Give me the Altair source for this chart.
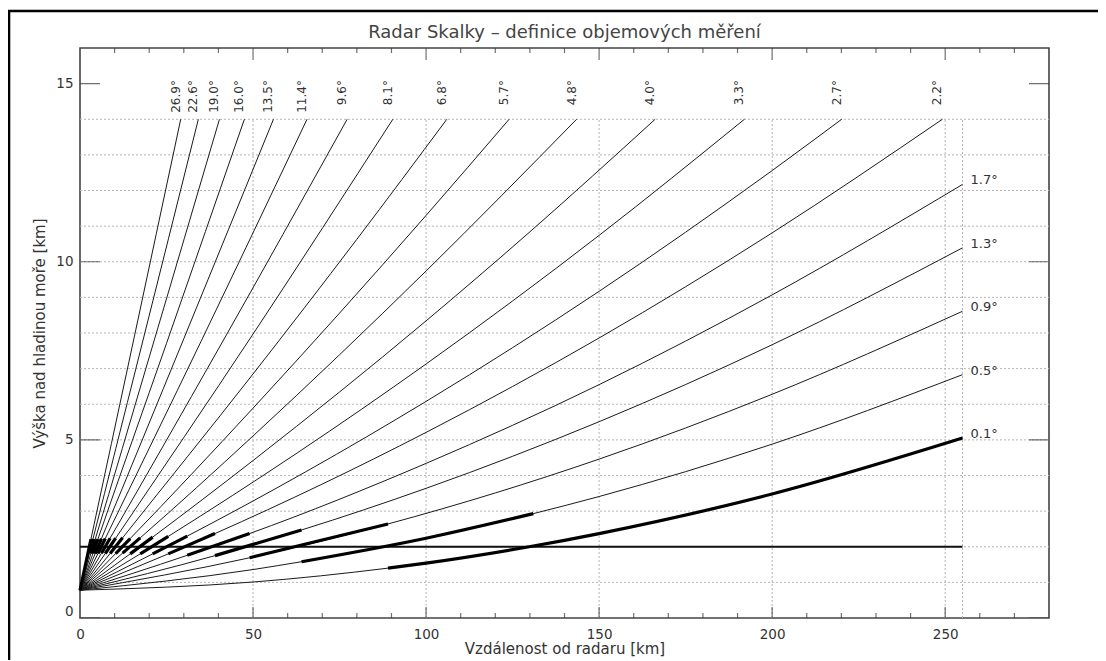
import altair as alt
import pandas as pd

# ---- data ----
chart_title = "Radar Skalky – definice objemových měření"
elev_labels = ["0.1°", "0.5°", "0.9°", "1.3°", "1.7°", "2.2°", "2.7°", "3.3°", "4.0°", "4.8°",
               "5.7°", "6.8°", "8.1°", "9.6°", "11.4°", "13.5°", "16.0°", "19.0°", "22.6°", "26.9°"]

# beam centre height [km] against distance from the radar [km]
dist_0_1 = [0, 50, 89, 100, 131, 150, 200, 255]
hgt_0_1 = [0.78, 1.01, 1.40, 1.54, 2.02, 2.37, 3.48, 5.05]
dist_0_5 = [0, 50, 64, 100, 131, 150, 200, 255]
hgt_0_5 = [0.78, 1.36, 1.58, 2.24, 2.93, 3.41, 4.88, 6.83]
dist_0_9 = [0, 49, 89, 120, 150, 200, 255]
hgt_0_9 = [0.78, 1.69, 2.64, 3.51, 4.46, 6.28, 8.61]
dist_1_3 = [0, 39, 64, 100, 150, 200, 255]
hgt_1_3 = [0.78, 1.75, 2.47, 3.64, 5.51, 7.67, 10.39]
dist_1_7 = [0, 31, 49, 100, 150, 200, 255]
hgt_1_7 = [0.78, 1.76, 2.37, 4.34, 6.55, 9.07, 12.17]
dist_2_2 = [0, 25.5, 39, 100, 150, 200, 249.2]
hgt_2_2 = [0.78, 1.80, 2.37, 5.21, 7.86, 10.81, 14.0]
dist_2_7 = [0, 21, 31, 100, 150, 200, 220.1]
hgt_2_7 = [0.78, 1.80, 2.30, 6.08, 9.17, 12.56, 14.0]
dist_3_3 = [0, 17.4, 25.5, 100, 150, 192]
hgt_3_3 = [0.78, 1.80, 2.29, 7.13, 10.74, 14.0]
dist_4_0 = [0, 14.5, 21, 50, 100, 130, 166.2]
hgt_4_0 = [0.78, 1.80, 2.27, 4.42, 8.34, 10.84, 14.0]
dist_4_8 = [0, 12.3, 17.4, 50, 100, 143.5]
hgt_4_8 = [0.78, 1.82, 2.25, 5.11, 9.74, 14.0]
dist_5_7 = [0, 10.3, 14.5, 50, 100, 124]
hgt_5_7 = [0.78, 1.81, 2.23, 5.89, 11.30, 14.0]
dist_6_8 = [0, 8.7, 12.3, 50, 80, 106]
hgt_6_8 = [0.78, 1.81, 2.25, 6.85, 10.63, 14.0]
dist_8_1 = [0, 7.3, 10.3, 50, 90.4]
hgt_8_1 = [0.78, 1.81, 2.24, 7.97, 14.0]
dist_9_6 = [0, 6.2, 8.7, 40, 77.2]
hgt_9_6 = [0.78, 1.82, 2.24, 7.55, 14.0]
dist_11_4 = [0, 5.2, 7.3, 35, 65.6]
hgt_11_4 = [0.78, 1.81, 2.23, 7.77, 14.0]
dist_13_5 = [0, 4.4, 6.2, 30, 55.9]
hgt_13_5 = [0.78, 1.81, 2.23, 7.84, 14.0]
dist_16_0 = [0, 3.75, 5.2, 25, 47.5]
hgt_16_0 = [0.78, 1.81, 2.22, 7.71, 14.0]
dist_19_0 = [0, 3.15, 4.4, 20, 40.3]
hgt_19_0 = [0.78, 1.81, 2.21, 7.32, 14.0]
dist_22_6 = [0, 2.7, 3.75, 17, 34.2]
hgt_22_6 = [0.78, 1.82, 2.22, 7.33, 14.0]
dist_26_9 = [0, 3.15, 15, 29.1]
hgt_26_9 = [0.78, 2.21, 7.58, 14.0]

# range interval of each elevation drawn bold [km]
seg_start = [89, 64, 49, 39, 31, 25.5, 21, 17.4, 14.5, 12.3, 10.3, 8.7, 7.3, 6.2, 5.2, 4.4, 3.75, 3.15, 2.7, 0]
seg_end = [255, 131, 89, 64, 49, 39, 31, 25.5, 21, 17.4, 14.5, 12.3, 10.3, 8.7, 7.3, 6.2, 5.2, 4.4, 3.75, 3.15]

cappi_height = 2.0
max_range = 255
top_label_height = 15.1

x_label_values = [0, 50, 100, 150, 200, 250]
y_label_values = [0, 5, 10, 15]
h_grid = list(range(1, 15))
v_grid = [50, 100, 150, 200, 250, 255]
grid_top = 14
x_minor = [10, 20, 30, 40, 60, 70, 80, 90, 110, 120, 130, 140, 160, 170, 180, 190, 210, 220, 230, 240, 260, 270]
x_major = [50, 100, 150, 200, 250]
y_major = [0, 5, 10, 15]
X_MAX, Y_MAX = 280, 16
W, H = 969, 570

dists = [dist_0_1, dist_0_5, dist_0_9, dist_1_3, dist_1_7, dist_2_2, dist_2_7, dist_3_3, dist_4_0, dist_4_8,
         dist_5_7, dist_6_8, dist_8_1, dist_9_6, dist_11_4, dist_13_5, dist_16_0, dist_19_0, dist_22_6, dist_26_9]
hgts = [hgt_0_1, hgt_0_5, hgt_0_9, hgt_1_3, hgt_1_7, hgt_2_2, hgt_2_7, hgt_3_3, hgt_4_0, hgt_4_8,
        hgt_5_7, hgt_6_8, hgt_8_1, hgt_9_6, hgt_11_4, hgt_13_5, hgt_16_0, hgt_19_0, hgt_22_6, hgt_26_9]

rows, thick, top_lab, right_lab = [], [], [], []
for i, (lab, ds, hs, s0, s1) in enumerate(zip(elev_labels, dists, hgts, seg_start, seg_end)):
    for d, h in zip(ds, hs):
        rows.append({"elev": lab, "x": d, "y": h})
        if s0 <= d <= s1:
            thick.append({"elev": lab, "x": d, "y": h})
    if hs[-1] >= 13.99:
        top_lab.append({"elev": lab, "x": ds[-1], "y": top_label_height})
    else:
        right_lab.append({"elev": lab, "x": ds[-1], "y": hs[-1]})

df_lines = pd.DataFrame(rows)
df_thick = pd.DataFrame(thick)
df_top = pd.DataFrame(top_lab)
df_right = pd.DataFrame(right_lab)
df_hgrid = pd.DataFrame({"y": h_grid, "x": [0] * len(h_grid), "x1": [X_MAX] * len(h_grid)})
df_vgrid = pd.DataFrame({"x": v_grid, "y": [0] * len(v_grid), "y1": [grid_top] * len(v_grid)})
df_cappi = pd.DataFrame({"x": [0], "x1": [max_range], "y": [cappi_height]})

FONT = "DejaVu Sans"
TXT = "#333333"
xs = alt.Scale(domain=[0, X_MAX], nice=False, zero=False)
ys = alt.Scale(domain=[0, Y_MAX], nice=False, zero=False)
x_axis = alt.Axis(values=x_label_values, ticks=False, domain=False, grid=False, labelFlush=False,
                  labelFont=FONT, labelFontSize=13.5, labelColor=TXT, labelPadding=9,
                  title="Vzdálenost od radaru [km]", titleFont=FONT, titleFontSize=15,
                  titleFontWeight="normal", titleColor=TXT, titlePadding=1)
y_axis = alt.Axis(values=y_label_values, ticks=False, domain=False, grid=False, labelFlush=True,
                  labelFont=FONT, labelFontSize=13.5, labelColor=TXT, labelPadding=7,
                  title="Výška nad hladinou moře [km]", titleFont=FONT, titleFontSize=15,
                  titleFontWeight="normal", titleColor=TXT, titlePadding=8)


def X(f):
    return alt.X(f, type="quantitative", scale=xs, axis=x_axis)


def Y(f):
    return alt.Y(f, type="quantitative", scale=ys, axis=y_axis)


hgrid = alt.Chart(df_hgrid).mark_rule(color="#b5b5b5", strokeWidth=1, strokeDash=[2, 2]).encode(
    x=X("x"), x2="x1", y=Y("y"))
vgrid = alt.Chart(df_vgrid).mark_rule(color="#b5b5b5", strokeWidth=1, strokeDash=[2, 2]).encode(
    x=X("x"), y=Y("y"), y2="y1")
cappi = alt.Chart(df_cappi).mark_rule(color="#111111", strokeWidth=2.2).encode(
    x=X("x"), x2="x1", y=Y("y"))
beams = alt.Chart(df_lines).mark_line(color="#1a1a1a", strokeWidth=1.0, interpolate="monotone").encode(
    x=X("x"), y=Y("y"), detail="elev:N")
bold = alt.Chart(df_thick).mark_line(color="#000000", strokeWidth=3.2, interpolate="monotone").encode(
    x=X("x"), y=Y("y"), detail="elev:N")
top_text = alt.Chart(df_top).mark_text(angle=270, align="right", baseline="middle", dy=-5,
                                       font=FONT, fontSize=12, color=TXT).encode(
    x=X("x"), y=Y("y"), text="elev:N")
right_text = alt.Chart(df_right).mark_text(align="left", baseline="middle", dx=8, dy=-4,
                                           font=FONT, fontSize=13, color=TXT).encode(
    x=X("x"), y=Y("y"), text="elev:N")


def ticks(xv, yv, orient, size):
    df = pd.DataFrame({"x": xv, "y": yv})
    return alt.Chart(df).mark_tick(orient=orient, size=size, thickness=1.2, clip=True,
                                   color="#333333").encode(x=X("x"), y=Y("y"))


tick_layers = [
    ticks(x_minor, [0] * len(x_minor), "vertical", 10),
    ticks(x_major, [0] * len(x_major), "vertical", 22),
    ticks(x_minor, [Y_MAX] * len(x_minor), "vertical", 10),
    ticks(x_major, [Y_MAX] * len(x_major), "vertical", 24),
    ticks([0] * len(y_major), y_major, "horizontal", 40),
    ticks([X_MAX] * len(y_major), y_major, "horizontal", 40),
]

# chart title drawn as a text mark centred over the plot area
title_mark = alt.Chart(pd.DataFrame({"t": [chart_title]})).mark_text(
    font=FONT, fontSize=18, color="#444444", align="center", baseline="middle").encode(
    text="t:N", x=alt.value(W / 2), y=alt.value(-15))

# outer picture frame (decoration)
frame = alt.Chart(pd.DataFrame({"f": [0]})).mark_rect(filled=False, stroke="#000000", strokeWidth=2.6).encode(
    x=alt.value(-71), x2=alt.value(1100), y=alt.value(-37), y2=alt.value(700))

chart = alt.layer(hgrid, vgrid, cappi, beams, bold, top_text, right_text, *tick_layers,
                  title_mark, frame).properties(
    width=W, height=H,
    autosize=alt.AutoSizeParams(type="none"),
    padding={"left": 72, "top": 40, "right": 49, "bottom": 42},
).configure_view(stroke="#444444", strokeWidth=1.6)

chart.save("out.html", embed_options={"renderer": "svg", "actions": False})
